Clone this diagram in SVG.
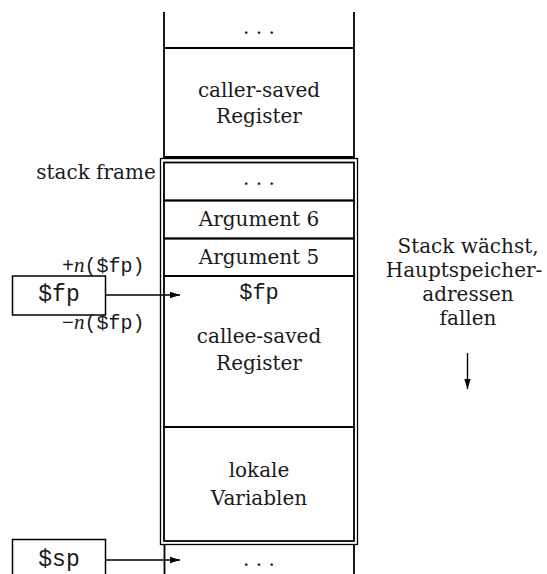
<svg xmlns="http://www.w3.org/2000/svg" width="547" height="574" viewBox="0 0 547 574">
<defs>
<style>
.cell{fill:none;stroke:#000;stroke-width:1.8}
.frame{fill:none;stroke:#000;stroke-width:1.3}
.t{font-family:"DejaVu Serif","Liberation Serif",serif;font-size:20px;fill:#1a1a1a;text-anchor:middle}
.m{font-family:"Liberation Mono","DejaVu Sans Mono",monospace;fill:#1a1a1a}
.box{fill:#fff;stroke:#000;stroke-width:1.5}
.conn{fill:none;stroke:#000;stroke-width:1.4}
</style>
<marker id="ah" markerWidth="10" markerHeight="8" refX="10" refY="4" orient="auto" markerUnits="userSpaceOnUse">
<path d="M0,0.8 L10,4 L0,7.2 Z" fill="#000"/>
</marker>
</defs>
<rect width="547" height="574" fill="#fff"/>

<g id="top-dots">
<path class="cell" d="M164,12 V48 M354,12 V48 M164,48 H354"/>
<text class="t" x="259" y="34">. . .</text>
</g>
<g id="caller-saved">
<path class="cell" d="M164,48 V157 M354,48 V157 M163.1,157 H354.9"/>
<text class="t" x="259" y="97">caller-saved</text>
<text class="t" x="259" y="123">Register</text>
</g>

<g id="stack-frame">
<rect class="frame" x="160.5" y="158.5" width="197" height="386"/>
<text class="t" x="96" y="179">stack frame</text>
</g>
<g id="frame-dots">
<rect class="cell" x="164" y="162.5" width="190" height="38"/>
<text class="t" x="259" y="185">. . .</text>
</g>
<g id="arg6">
<rect class="cell" x="164" y="200.5" width="190" height="38"/>
<text class="t" x="259" y="226">Argument 6</text>
</g>
<g id="arg5">
<rect class="cell" x="164" y="238.5" width="190" height="37.5"/>
<text class="t" x="259" y="264">Argument 5</text>
</g>
<g id="callee-saved">
<rect class="cell" x="164" y="276" width="190" height="151"/>
<text class="m" x="259" y="299" font-size="22" text-anchor="middle">$fp</text>
<text class="t" x="259" y="343">callee-saved</text>
<text class="t" x="259" y="370">Register</text>
</g>
<g id="lokale">
<rect class="cell" x="164" y="427" width="190" height="114"/>
<text class="t" x="259" y="477">lokale</text>
<text class="t" x="259" y="505">Variablen</text>
</g>
<g id="bottom-dots">
<path class="cell" d="M164.5,544 V574 M354,544 V574"/>
<text class="t" x="259" y="566">. . .</text>
</g>

<g id="fp-box">
<rect class="box" x="12.5" y="276" width="93" height="39"/>
<text class="m" x="59" y="301" font-size="23" text-anchor="middle">$fp</text>
<text class="m" x="62" y="272" font-size="20">+<tspan font-family="Liberation Serif,serif" font-style="italic" font-size="21">n</tspan>($fp)</text>
<text class="m" x="62" y="329" font-size="20">−<tspan font-family="Liberation Serif,serif" font-style="italic" font-size="21">n</tspan>($fp)</text>
</g>
<g id="sp-box">
<rect class="box" x="12.5" y="539.5" width="93" height="40"/>
<text class="m" x="59" y="566" font-size="23" text-anchor="middle">$sp</text>
</g>

<g id="note">
<text class="t" x="468" y="253">Stack wächst,</text>
<text class="t" x="464" y="277">Hauptspeicher-</text>
<text class="t" x="468" y="301">adressen</text>
<text class="t" x="468" y="325">fallen</text>
</g>

<g id="connectors">
<line class="conn" x1="105.5" y1="295" x2="180" y2="295" marker-end="url(#ah)"/>
<line class="conn" x1="105.5" y1="560" x2="180" y2="560" marker-end="url(#ah)"/>
<line class="conn" x1="467.5" y1="353" x2="467.5" y2="389" marker-end="url(#ah)"/>
</g>
</svg>
